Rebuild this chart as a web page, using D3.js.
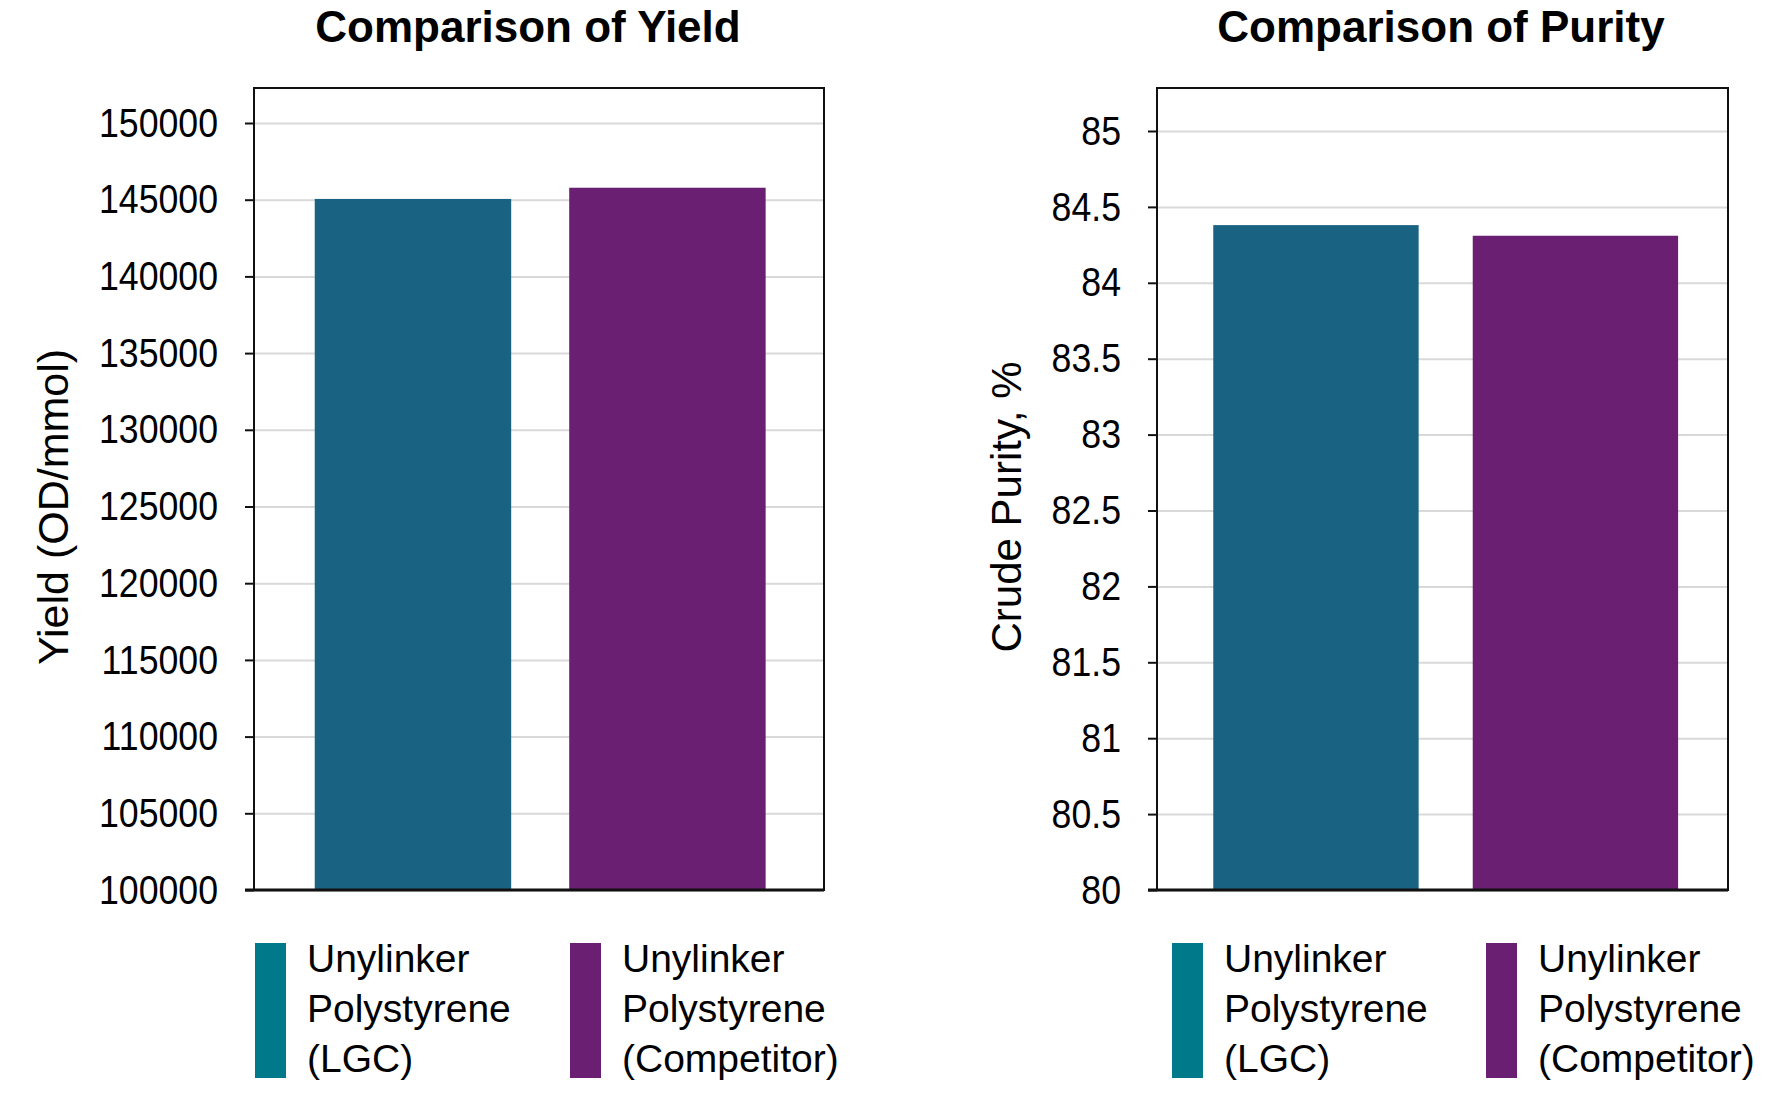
<!DOCTYPE html>
<html>
<head>
<meta charset="utf-8">
<script src="https://cdn.jsdelivr.net/npm/d3@7/dist/d3.min.js"></script>
<style>
  body { margin: 0; background: #fff; }
  svg { display: block; }
  text { font-family: "Liberation Sans", Arial, Helvetica, sans-serif; fill: #000; }
</style>
</head>
<body>
<svg id="chart" width="1767" height="1094"></svg>
<script>
// ---------- data ----------
const categories = ["Unylinker Polystyrene (LGC)", "Unylinker Polystyrene (Competitor)"];
const yieldValues = [145050, 145780];
const purityValues = [84.38, 84.31];
const yieldTicks = [100000, 105000, 110000, 115000, 120000, 125000, 130000, 135000, 140000, 145000, 150000];
const purityTicks = [80, 80.5, 81, 81.5, 82, 82.5, 83, 83.5, 84, 84.5, 85];
const titles = ["Comparison of Yield", "Comparison of Purity"];
const yLabels = ["Yield (OD/mmol)", "Crude Purity, %"];

// ---------- styles ----------
const barColors = ["#1a6282", "#6b1f72"];
const legendColors = ["#007a8a", "#6b1f73"];

const svg = d3.select("#chart");

function drawChart(cfg) {
  const g = svg.append("g");
  const top = 88, bottom = 890;
  const y = d3.scaleLinear().domain([cfg.ticks[0], cfg.ticks[cfg.ticks.length - 1]]).range([bottom, cfg.topTickY]);
  const x = d3.scaleBand().domain(categories).range([cfg.x0, cfg.x1])
    .paddingInner(cfg.pi).paddingOuter(cfg.po).align(cfg.align);

  // gridlines
  g.append("g")
    .attr("transform", `translate(${cfg.x0},0)`)
    .call(d3.axisLeft(y).tickValues(cfg.ticks).tickSize(-(cfg.x1 - cfg.x0)).tickFormat(""))
    .call(a => a.select(".domain").remove())
    .call(a => a.selectAll("line").attr("stroke", "#d9d9d9").attr("stroke-width", 2));

  // bars
  g.selectAll("rect.bar").data(cfg.values).join("rect")
    .attr("class", "bar")
    .attr("x", (d, i) => x(categories[i]))
    .attr("width", x.bandwidth())
    .attr("y", d => y(d))
    .attr("height", d => y(cfg.ticks[0]) - y(d))
    .attr("fill", (d, i) => barColors[i]);

  // box
  g.append("rect")
    .attr("x", cfg.x0).attr("y", top)
    .attr("width", cfg.x1 - cfg.x0).attr("height", bottom - top)
    .attr("fill", "none").attr("stroke", "#111").attr("stroke-width", 2);

  // y axis ticks + labels
  const ax = g.append("g")
    .attr("transform", `translate(${cfg.x0},0)`)
    .call(d3.axisLeft(y).tickValues(cfg.ticks).tickSize(9).tickPadding(27).tickFormat(cfg.fmt));
  ax.select(".domain").remove();
  ax.selectAll("line").attr("stroke", "#111").attr("stroke-width", 2);
  ax.selectAll("text")
    .style("font-size", "41px")
    .attr("fill", "#000")
    .each(function () {
      const L = this.getComputedTextLength();
      this.setAttribute("textLength", (L * 0.87).toFixed(1));
      this.setAttribute("lengthAdjust", "spacingAndGlyphs");
    });

  // bottom axis line
  g.append("line")
    .attr("x1", cfg.x0 - 9).attr("x2", cfg.x1)
    .attr("y1", y(cfg.ticks[0])).attr("y2", y(cfg.ticks[0]))
    .attr("stroke", "#111").attr("stroke-width", 3);

  // title
  g.append("text")
    .attr("x", cfg.titleX).attr("y", 42)
    .attr("text-anchor", "middle")
    .style("font-size", "44px").style("font-weight", "bold")
    .text(cfg.title);

  // y label
  g.append("text")
    .attr("transform", `translate(${cfg.labelX},507) rotate(-90)`)
    .attr("text-anchor", "middle")
    .style("font-size", cfg.labelSize + "px")
    .text(cfg.yLabel);

  // legend
  categories.forEach((c, i) => {
    const lx = cfg.legendX[i];
    g.append("rect")
      .attr("x", lx).attr("y", 943)
      .attr("width", 31).attr("height", 135)
      .attr("fill", legendColors[i]);
    const t = g.append("text")
      .attr("x", lx + 52).attr("y", 972)
      .style("font-size", "39px");
    c.split(" ").forEach((w, j) => {
      t.append("tspan").attr("x", lx + 52).attr("y", 972 + j * 50).text(w);
    });
  });
}

drawChart({
  title: titles[0], titleX: 528, yLabel: yLabels[0], labelX: 68, labelSize: 43,
  x0: 254, x1: 824, topTickY: 123, ticks: yieldTicks, values: yieldValues,
  fmt: d3.format("d"), pi: 0.228, po: 0.234, align: 0.51, legendX: [255, 570]
});

drawChart({
  title: titles[1], titleX: 1441, yLabel: yLabels[1], labelX: 1021, labelSize: 42,
  x0: 1157, x1: 1728, topTickY: 131, ticks: purityTicks, values: purityValues,
  fmt: d => String(d), pi: 0.2085, po: 0.2046, align: 0.53, legendX: [1172, 1486]
});
</script>
</body>
</html>
